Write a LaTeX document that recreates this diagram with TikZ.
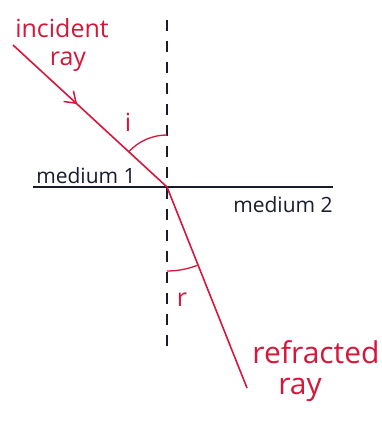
\documentclass[tikz,border=0pt]{standalone}
\usepackage{fontspec}
\setmainfont{Open Sans}
\usetikzlibrary{decorations.markings}
\definecolor{raycol}{RGB}{214,22,58}
\definecolor{inkcol}{RGB}{25,28,45}
\begin{document}
\begin{tikzpicture}[x=1pt,y=1pt,
	ray/.style={raycol, line width=1.6pt},
	raylabel/.style={raycol, font=\fontsize{25}{25}\selectfont, inner sep=0pt},
	bigraylabel/.style={raylabel, font=\fontsize{30}{30}\selectfont},
	medlabel/.style={inkcol, font=\fontsize{21}{21}\selectfont, inner sep=0pt},
	normal/.style={inkcol, line width=1.3pt, dash pattern=on 11pt off 10pt}]
				\useasboundingbox (0,0) rectangle (382,425);
				\coordinate (O) at (167,238);
				\coordinate (top) at (167,405);
				\coordinate (bottom) at (167,70);
				\coordinate (left) at (33,238);
				\coordinate (right) at (333,238);
				\coordinate (inc) at (13,380);
				\coordinate (ref) at (247,37);
				\draw[normal] (top) -- (bottom);
				\draw[inkcol, line width=1.5pt] (left) -- (right);
				\draw[ray, postaction={decorate}, decoration={markings,
					mark=at position 0.41 with {\draw[raycol, line width=1.5pt, line cap=round] (-10,7) -- (0,0) -- (-10,-7);}}] (inc) -- (O);
				\draw[ray] (O) -- (ref);
				\draw[raycol, line width=1.3pt] (O) ++(90:52) arc[start angle=90, end angle=137, radius=52];
				\draw[raycol, line width=1.3pt] (O) ++(270:84) arc[start angle=270, end angle=291, radius=84];
				\node[raylabel] (incA) at (62,397) {incident};
				\node[raylabel] (incB) at (68,363) {ray};
				\node[raylabel] (angi) at (128,303) {i};
				\node[raylabel] (angr) at (182,125) {r};
				\node[bigraylabel] (refA) at (316,73) {refracted};
				\node[bigraylabel] (refB) at (300,35) {ray};
				\node[medlabel, anchor=south] (med1) at (86,241) {medium 1};
				\node[medlabel] (med2) at (283,220) {medium 2};
			\end{tikzpicture}
\end{document}
